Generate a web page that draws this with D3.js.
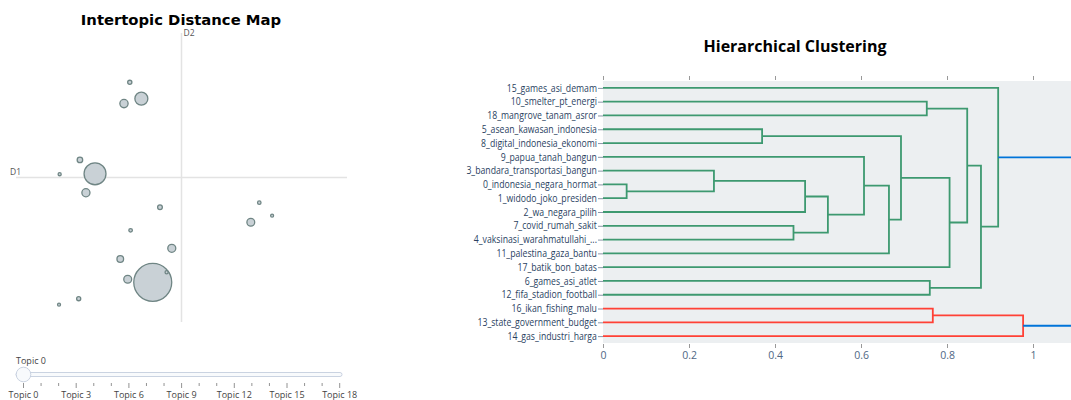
<!DOCTYPE html>
<meta charset="utf-8">
<head>
<title>Topic overview</title>
</head>

<style>
body { margin: 0; background: #fff; }
text { font-family: "Open Sans", sans-serif; }
</style>

<body>
  <svg id="chart" width="1071" height="400"></svg>

  <script src="https://d3js.org/d3.v7.min.js"></script>
  <script>

  // ---------- intertopic distance map ----------
  var topicIds  = [0, 1, 2, 3, 4, 5, 6, 7, 8, 9, 10, 11, 12, 13, 14, 15, 16, 17, 18];
  var topicX    = [9.61, 6.82, 9.06, 8.22, 6.38, 10.53, 8.40, 14.35, 8.04, 6.09, 9.96, 8.50, 6.03, 8.54, 14.76, 5.11, 10.28, 5.08, 15.38];
  var topicY    = [0.92, 6.18, 9.82, 9.58, 5.26, 2.57, 1.07, 3.83, 2.05, 6.85, 4.56, 10.61, 0.13, 3.44, 4.78, 6.16, 1.41, -0.16, 4.15];
  var topicSize = [1800, 600, 210, 85, 82, 80, 78, 76, 55, 38, 28, 22, 21, 16, 15, 12, 12, 11, 11];
  var sliderLabels = ['Topic 0', 'Topic 3', 'Topic 6', 'Topic 9', 'Topic 12', 'Topic 15', 'Topic 18'];

  // ---------- hierarchical clustering ----------
  // leaves listed top to bottom, the order the dendrogram shows them
  var leafLabels = ['15_games_asi_demam', '10_smelter_pt_energi', '18_mangrove_tanam_asror',
    '5_asean_kawasan_indonesia', '8_digital_indonesia_ekonomi', '9_papua_tanah_bangun',
    '3_bandara_transportasi_bangun', '0_indonesia_negara_hormat', '1_widodo_joko_presiden',
    '2_wa_negara_pilih', '7_covid_rumah_sakit', '4_vaksinasi_warahmatullahi_...',
    '11_palestina_gaza_bantu', '17_batik_bon_batas', '6_games_asi_atlet',
    '12_fifa_stadion_football', '16_ikan_fishing_malu', '13_state_government_budget',
    '14_gas_industri_harga'];
  // linkage: ids < 19 are leaves, merge k creates cluster 19 + k
  var linkLeft  = [7, 6, 3, 10, 20, 23, 5, 25, 21, 1, 14, 16, 27, 28, 32, 0, 30, 34];
  var linkRight = [8, 19, 4, 11, 9, 22, 24, 12, 26, 2, 15, 17, 13, 31, 29, 33, 18, 35];
  var linkDist  = [0.055, 0.258, 0.37, 0.443, 0.47, 0.523, 0.607, 0.665, 0.693, 0.753, 0.760, 0.767, 0.806, 0.847, 0.879, 0.919, 0.977, 1.2];
  var xTicks = [0, 0.2, 0.4, 0.6, 0.8, 1];
  var colorThreshold = 1.0;
  var clusterColors = ['rgb(61,153,112)', 'rgb(255,65,54)'];
  var aboveColor = 'rgb(0,116,217)';

  var svg = d3.select('#chart');

  // ======== left: intertopic distance map ========
  var map = svg.append('g');
  var mx = d3.scaleLinear().domain([3, 19]).range([16, 347]);
  var my = d3.scaleLinear().domain([-1, 13]).range([322, 33]);
  var mr = d3.scaleSqrt().domain([0, d3.max(topicSize)]).range([0, 19]);

  map.append('text')
    .attr('x', 181).attr('y', 25)
    .attr('text-anchor', 'middle')
    .style('font-family', '"DejaVu Sans", Verdana, sans-serif')
    .style('font-weight', 'bold')
    .style('font-size', '14.8px')
    .text('Intertopic Distance Map');

  var xMid = d3.mean(mx.domain()), yMid = d3.mean(my.domain());
  map.append('line')
    .attr('x1', mx(xMid)).attr('x2', mx(xMid))
    .attr('y1', my.range()[1]).attr('y2', my.range()[0])
    .attr('stroke', '#e3e3e3').attr('stroke-width', 1.5);
  map.append('line')
    .attr('x1', mx.range()[0]).attr('x2', mx.range()[1])
    .attr('y1', my(yMid)).attr('y2', my(yMid))
    .attr('stroke', '#e3e3e3').attr('stroke-width', 1.5);
  map.append('text').attr('x', 10).attr('y', my(yMid) - 3)
    .style('font-size', '8.5px').attr('fill', '#555').text('D1');
  map.append('text').attr('x', mx(xMid) + 2).attr('y', 36)
    .style('font-size', '8.5px').attr('fill', '#555').text('D2');

  map.selectAll('circle.topic')
    .data(topicIds)
    .enter()
    .append('circle')
    .attr('class', 'topic')
    .attr('cx', function(i) { return mx(topicX[i]); })
    .attr('cy', function(i) { return my(topicY[i]); })
    .attr('r', function(i) { return mr(topicSize[i]); })
    .attr('fill', '#c9d1d6')
    .attr('stroke', '#6f8584')
    .attr('stroke-width', 1.3);

  // slider (static picture of the plotly slider)
  var sx = d3.scalePoint().domain(topicIds).range([23.5, 339.7]);
  map.append('text').attr('x', 16).attr('y', 364)
    .style('font-size', '9px').attr('fill', '#444').text('Topic 0');
  map.append('rect')
    .attr('x', 16).attr('y', 372.5).attr('width', 326).attr('height', 4).attr('rx', 2)
    .attr('fill', '#f8fafc').attr('stroke', '#bec8d9').attr('stroke-width', 0.8);
  map.append('circle')
    .attr('cx', sx(0)).attr('cy', 374.5).attr('r', 7.3)
    .attr('fill', '#f8fafc').attr('stroke', '#bec8d9').attr('stroke-width', 0.8);
  map.selectAll('line.stick')
    .data(topicIds)
    .enter()
    .append('line')
    .attr('class', 'stick')
    .attr('x1', function(d) { return sx(d); })
    .attr('x2', function(d) { return sx(d); })
    .attr('y1', 383)
    .attr('y2', function(d) { return d % 3 === 0 ? 388 : 386; })
    .attr('stroke', '#777').attr('stroke-width', 0.8);
  map.selectAll('text.slab')
    .data(sliderLabels)
    .enter()
    .append('text')
    .attr('class', 'slab')
    .attr('x', function(d) { return sx(+d.split(' ')[1]); })
    .attr('y', 398)
    .attr('text-anchor', 'middle')
    .style('font-size', '9px')
    .attr('fill', '#444')
    .text(function(d) { return d; });

  // ======== right: hierarchical clustering ========
  var den = svg.append('g');
  var plotTop = 81, plotBottom = 343, plotLeft = 603;
  var dx = d3.scaleLinear().domain([0, 1]).range([plotLeft, 1033]);
  var dy = d3.scaleLinear().domain([0, leafLabels.length * 10]).range([plotTop, plotBottom]);

  den.append('text')
    .attr('x', 795).attr('y', 52)
    .attr('text-anchor', 'middle')
    .style('font-weight', 'bold')
    .style('font-size', '16px')
    .text('Hierarchical Clustering');

  den.append('rect')
    .attr('x', plotLeft).attr('y', plotTop)
    .attr('width', 1071 - plotLeft).attr('height', plotBottom - plotTop)
    .attr('fill', '#eceff1');

  // node positions
  var n = leafLabels.length;
  var nodeY = [], nodeD = [], nodeColor = [];
  leafLabels.forEach(function(l, i) { nodeY[i] = 10 * i + 5; nodeD[i] = 0; });
  linkDist.forEach(function(d, k) {
    var id = n + k;
    nodeY[id] = (nodeY[linkLeft[k]] + nodeY[linkRight[k]]) / 2;
    nodeD[id] = d;
  });

  // colour clusters below the threshold, top to bottom
  var colorIdx = 0;
  function paint(id, c) {
    if (id < n) return;
    nodeColor[id] = c;
    paint(linkLeft[id - n], c);
    paint(linkRight[id - n], c);
  }
  function assign(id) {
    if (id < n) return;
    if (nodeD[id] < colorThreshold) {
      paint(id, clusterColors[colorIdx % clusterColors.length]);
      colorIdx++;
    } else {
      nodeColor[id] = aboveColor;
      assign(linkLeft[id - n]);
      assign(linkRight[id - n]);
    }
  }
  assign(n + linkDist.length - 1);

  var links = linkDist.map(function(d, k) {
    var a = linkLeft[k], b = linkRight[k];
    return {
      pts: [[nodeD[a], nodeY[a]], [d, nodeY[a]], [d, nodeY[b]], [nodeD[b], nodeY[b]]],
      color: nodeColor[n + k]
    };
  });

  var line = d3.line()
    .x(function(p) { return dx(p[0]); })
    .y(function(p) { return dy(p[1]); });

  den.append('clipPath').attr('id', 'plotclip')
    .append('rect').attr('x', plotLeft).attr('y', plotTop - 2)
    .attr('width', 1071 - plotLeft).attr('height', plotBottom - plotTop + 4);

  den.append('g').attr('clip-path', 'url(#plotclip)')
    .selectAll('path')
    .data(links)
    .enter()
    .append('path')
    .attr('d', function(d) { return line(d.pts); })
    .attr('fill', 'none')
    .attr('stroke', function(d) { return d.color; })
    .attr('stroke-width', 1.8);

  // x axis bottom and mirrored ticks on top
  var xAxis = d3.axisBottom(dx).tickValues(xTicks).tickSize(4).tickPadding(4)
    .tickFormat(function(d) { return d3.format('')(d); });
  var gx = den.append('g').attr('transform', 'translate(0,' + (plotBottom + 1) + ')').call(xAxis);
  gx.select('.domain').remove();
  gx.selectAll('line').attr('stroke', '#999');
  gx.selectAll('text').attr('fill', '#506784').style('font-size', '10.5px')
    .style('font-family', '"Open Sans", sans-serif');

  var gxt = den.append('g').attr('transform', 'translate(0,' + (plotTop - 1) + ')')
    .call(d3.axisTop(dx).tickValues(xTicks).tickSize(4).tickFormat(''));
  gxt.select('.domain').remove();
  gxt.selectAll('line').attr('stroke', '#999');

  // y axis with leaf labels (the reference text is horizontally condensed)
  var yAxis = d3.axisLeft(dy)
    .tickValues(leafLabels.map(function(l, i) { return 10 * i + 5; }))
    .tickFormat(function(v) { return leafLabels[(v - 5) / 10]; })
    .tickSize(5).tickPadding(2);
  var gy = den.append('g').attr('transform', 'translate(' + plotLeft + ',0)').call(yAxis);
  gy.select('.domain').remove();
  gy.selectAll('line').attr('stroke', '#8a96a8');
  gy.selectAll('text').attr('fill', '#2a3f5f').style('font-size', '10px')
    .style('font-family', '"Open Sans", sans-serif')
    .attr('transform', 'scale(0.87,1)');

  </script>
</body>
</html>
